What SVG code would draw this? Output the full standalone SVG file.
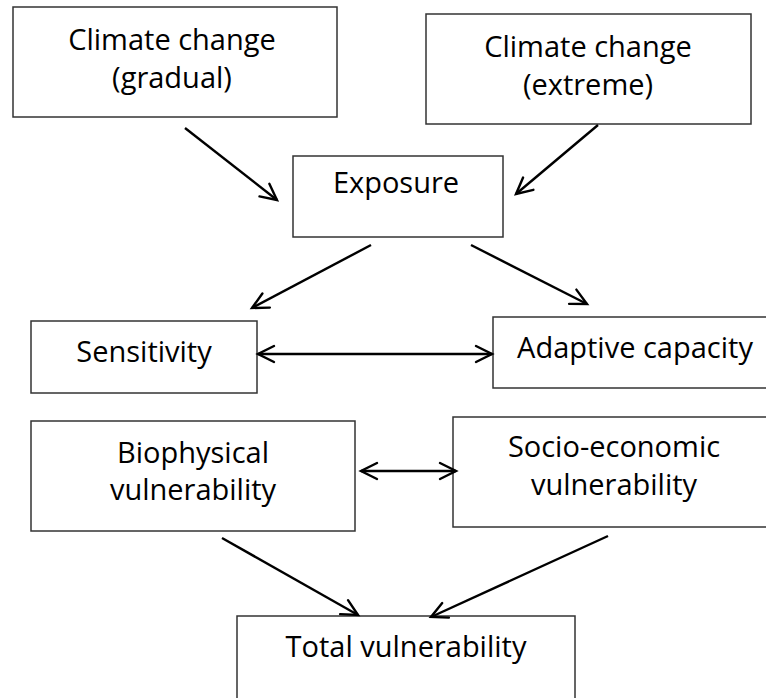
<svg xmlns="http://www.w3.org/2000/svg" width="766" height="698" viewBox="0 0 766 698">
<style>
.box{fill:#fff;stroke:#333;stroke-width:1.5}
.t{font-family:"Open Sans","Noto Sans",sans-serif;font-size:29px;fill:#000;text-anchor:middle}
.c{stroke:#000;stroke-width:2.4;fill:none}
</style>
<defs>
<marker id="ah" markerUnits="userSpaceOnUse" markerWidth="40" markerHeight="40" refX="0" refY="0" viewBox="-20 -20 40 40" orient="auto-start-reverse" overflow="visible">
<path d="M-16,-8 L0,0 L-16,8" fill="none" stroke="#000" stroke-width="2.4" stroke-linecap="round" stroke-linejoin="miter"/>
</marker>
</defs>
<rect width="766" height="698" fill="#fff"/>
<g id="gradual"><rect class="box" x="13" y="7" width="324" height="110"/><text class="t" x="172" y="50">Climate change</text><text class="t" x="172" y="88">(gradual)</text></g>
<g id="extreme"><rect class="box" x="426" y="14" width="325" height="110"/><text class="t" x="588" y="57">Climate change</text><text class="t" x="588" y="95">(extreme)</text></g>
<g id="exposure"><rect class="box" x="293" y="156" width="210" height="81"/><text class="t" x="396" y="193">Exposure</text></g>
<g id="sensitivity"><rect class="box" x="31" y="321" width="226" height="72"/><text class="t" x="144" y="362">Sensitivity</text></g>
<g id="adaptive"><rect class="box" x="493" y="317" width="284" height="71"/><text class="t" x="635" y="358">Adaptive capacity</text></g>
<g id="biophysical"><rect class="box" x="31" y="421" width="324" height="110"/><text class="t" x="193" y="463">Biophysical</text><text class="t" x="193" y="500">vulnerability</text></g>
<g id="socio"><rect class="box" x="453" y="417" width="322" height="110"/><text class="t" x="614" y="457">Socio-economic</text><text class="t" x="614" y="495">vulnerability</text></g>
<g id="total"><rect class="box" x="237" y="616" width="338" height="90"/><text class="t" x="406" y="657">Total vulnerability</text></g>
<g id="connectors" class="c">
<line x1="185" y1="128" x2="277" y2="200" marker-end="url(#ah)"/>
<line x1="598" y1="125" x2="516" y2="194" marker-end="url(#ah)"/>
<line x1="371" y1="245" x2="252" y2="308" marker-end="url(#ah)"/>
<line x1="471" y1="245" x2="587" y2="304" marker-end="url(#ah)"/>
<line x1="258" y1="354" x2="492" y2="354" marker-start="url(#ah)" marker-end="url(#ah)"/>
<line x1="361" y1="471" x2="456" y2="471" marker-start="url(#ah)" marker-end="url(#ah)"/>
<line x1="222" y1="538" x2="358" y2="615" marker-end="url(#ah)"/>
<line x1="608" y1="536" x2="431" y2="617" marker-end="url(#ah)"/>
</g>
</svg>
